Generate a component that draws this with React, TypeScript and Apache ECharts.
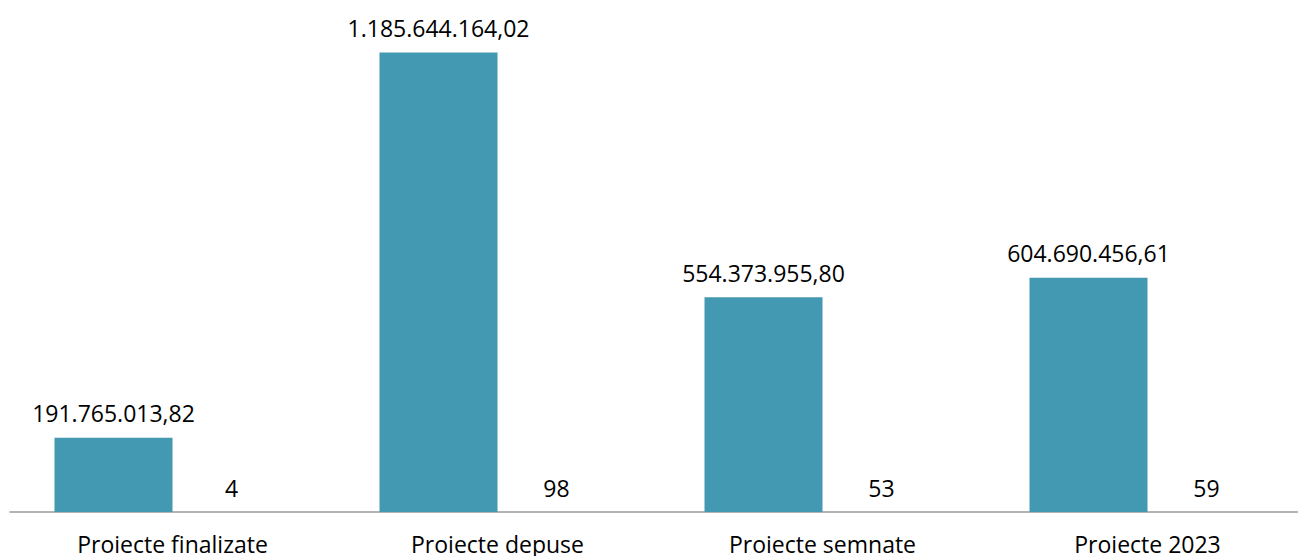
import React, { useEffect, useRef } from "react";
import * as echarts from "echarts";

const categories = ["Proiecte finalizate", "Proiecte depuse", "Proiecte semnate", "Proiecte 2023"];
const valori = [191765013.82, 1185644164.02, 554373955.8, 604690456.61];
const numarProiecte = [4, 98, 53, 59];

const fmtRo = (v: number, decimals: number) => {
  const s = v.toFixed(decimals);
  const [intPart, dec] = s.split(".");
  const withDots = intPart.replace(/\B(?=(\d{3})+(?!\d))/g, ".");
  return dec !== undefined ? `${withDots},${dec}` : withDots;
};

const FONT = "'Open Sans', 'Noto Sans', sans-serif";

export default function App() {
  const ref = useRef<HTMLDivElement>(null);
  useEffect(() => {
    if (!ref.current) return;
    const chart = echarts.init(ref.current, null, { renderer: "svg" });
    const labelStyle = {
      show: true,
      position: "top" as const,
      distance: 13,
      color: "#000",
      fontFamily: FONT,
      fontSize: 23,
    };
    chart.setOption({
      animation: false,
      grid: { left: 10, width: 1300, top: 47, bottom: 44 },
      xAxis: {
        type: "category",
        data: categories,
        axisLine: { show: true, lineStyle: { color: "#9a9a9a", width: 1.5 } },
        axisTick: { show: false },
        axisLabel: {
          color: "#000",
          fontFamily: FONT,
          fontSize: 23,
          margin: 20,
        },
      },
      yAxis: {
        type: "value",
        min: 0,
        max: 1200000000,
        show: false,
        splitLine: { show: false },
      },
      series: [
        {
          type: "bar",
          data: valori,
          barWidth: 118,
          barGap: "0%",
          itemStyle: { color: "#4399B1" },
          label: { ...labelStyle, formatter: (p: any) => fmtRo(p.value, 2) },
        },
        {
          type: "bar",
          data: numarProiecte,
          barWidth: 118,
          itemStyle: { color: "rgba(0,0,0,0)" },
          label: { ...labelStyle, formatter: (p: any) => fmtRo(p.value, 0) },
        },
      ],
    });
    return () => chart.dispose();
  }, []);
  return (
    <div
      style={{
        position: "fixed",
        left: 0,
        top: 0,
        width: 1298,
        height: 556,
        overflow: "hidden",
        background: "#fff",
      }}
    >
      <div ref={ref} style={{ width: 1320, height: 556 }} />
    </div>
  );
}
